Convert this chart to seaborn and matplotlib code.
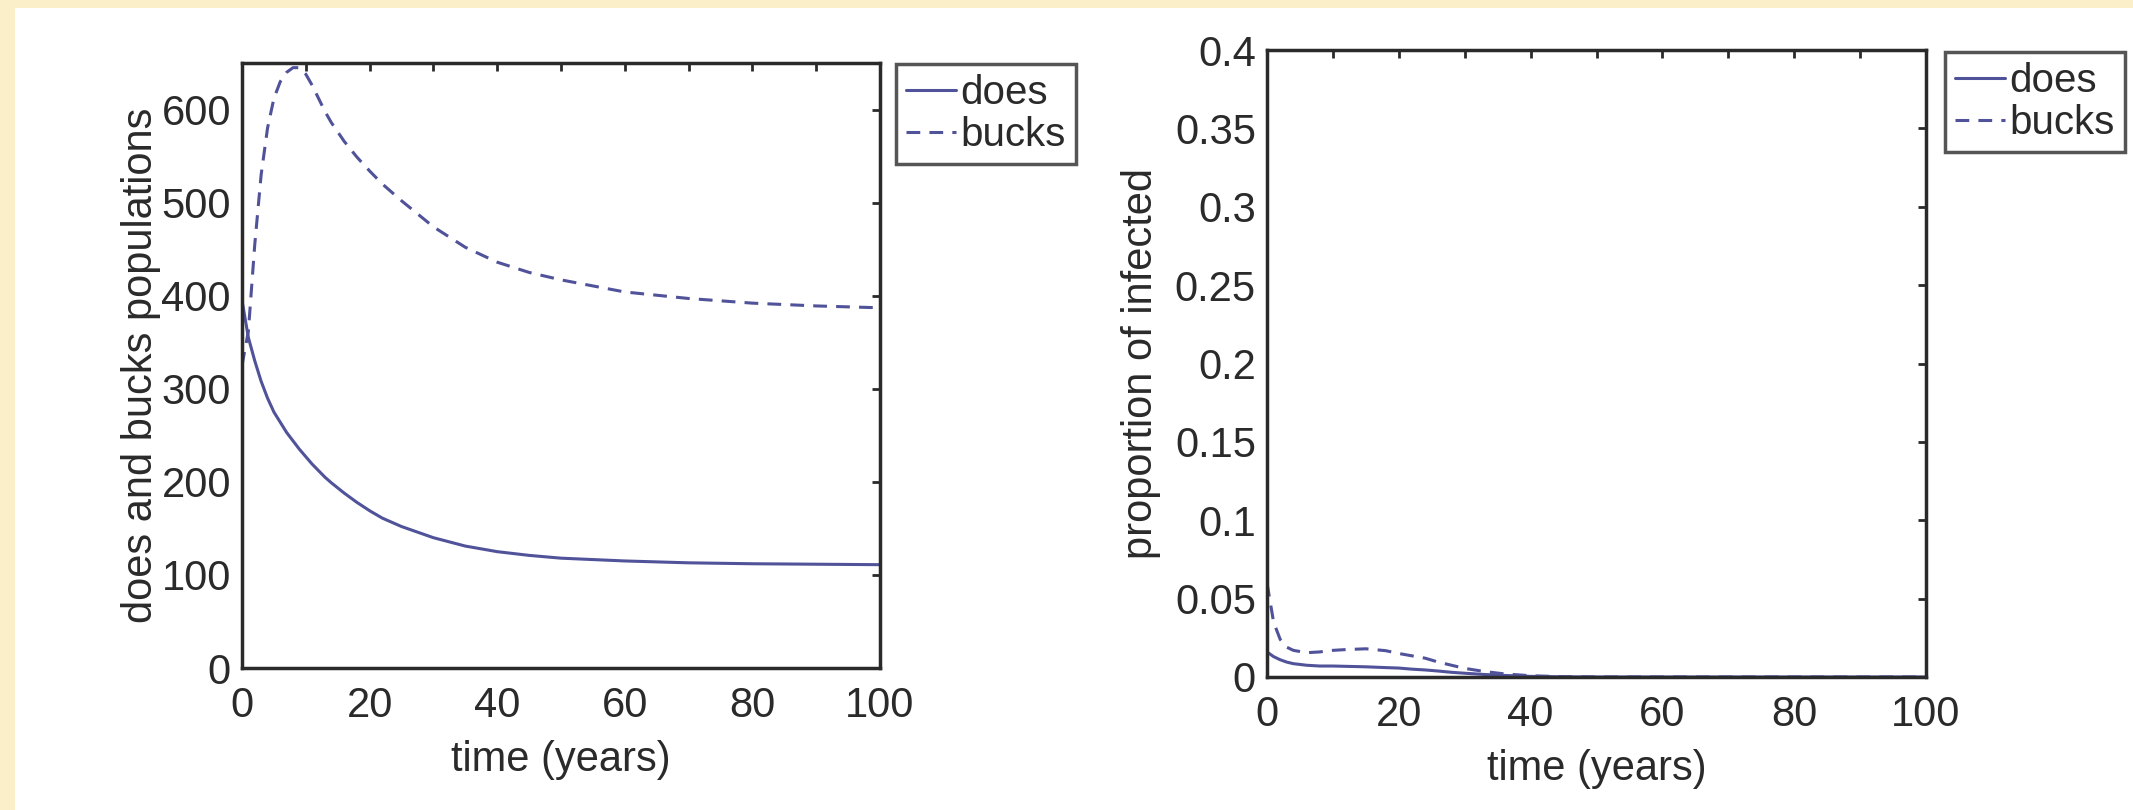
import matplotlib
matplotlib.use("Agg")
import matplotlib.pyplot as plt
import matplotlib.patches as mpatches
import seaborn as sns
import pandas as pd

# --- data ---
# left panel: population sizes over time
t_pop = [0, 1, 2, 3, 4, 5, 6, 7, 8, 9, 10, 11, 12, 13, 14, 16, 18, 20, 22,
         25, 30, 35, 40, 45, 50, 60, 70, 80, 90, 100]
does_pop = [395, 355, 330, 308, 290, 275, 264, 253, 244, 235, 227, 219, 212, 205, 199, 188,
            178, 169, 161, 152, 140, 131, 125, 121, 118, 115, 113, 112, 111.5, 111]
bucks_pop = [325, 362, 455, 530, 580, 612, 630, 640, 645, 645, 638, 626, 612, 598, 586, 566,
             549, 534, 520, 502, 474, 452, 436, 425, 417, 404, 397, 392, 389, 387]

# right panel: proportion of infected over time
t_inf = [0, 1, 2, 3, 4, 6, 8, 10, 12, 15, 18, 20, 22, 24, 26, 28, 30,
         33, 36, 40, 45, 50, 60, 80, 100]
does_inf = [0.016, 0.013, 0.011, 0.0095, 0.0085, 0.0075, 0.007, 0.007, 0.0068, 0.0065, 0.006,
            0.0057, 0.005, 0.0045, 0.0038, 0.003, 0.0024, 0.0016, 0.001, 0.0004, 0.0001,
            0, 0, 0, 0]
bucks_inf = [0.060, 0.035, 0.024, 0.019, 0.017, 0.0155, 0.016, 0.017, 0.0175, 0.018, 0.0168,
             0.015, 0.0135, 0.012, 0.0095, 0.0075, 0.0055, 0.0035, 0.002, 0.0008, 0.0002,
             0, 0, 0, 0]

x_ticks = [0, 20, 40, 60, 80, 100]
x_minor = list(range(0, 101, 10))
pop_ticks = [0, 100, 200, 300, 400, 500, 600]
inf_ticks = [0, 0.05, 0.1, 0.15, 0.2, 0.25, 0.3, 0.35, 0.4]
inf_tick_labels = ["0", "0.05", "0.1", "0.15", "0.2", "0.25", "0.3", "0.35", "0.4"]

# --- style ---
sns.set_theme(style="white")
plt.rcParams['font.family'] = ['Liberation Sans', 'DejaVu Sans']

line_color = "#50529a"
cream = "#fbefca"
ink = "#2a2a2a"
W, H = 2133, 810

fig = plt.figure(figsize=(W / 100, H / 100), dpi=100, facecolor=cream)
# white panel inside the cream frame
fig.patches.append(mpatches.Rectangle((15 / W, 0), 1, 802 / H, transform=fig.transFigure,
                                      facecolor="white", edgecolor="none", zorder=-1))

ax1 = fig.add_axes([242 / W, 1 - 668 / H, 638 / W, 605 / H])
ax2 = fig.add_axes([1267 / W, 1 - 677 / H, 659 / W, 627 / H])

df_pop = pd.DataFrame({"t": t_pop, "does": does_pop, "bucks": bucks_pop})
df_inf = pd.DataFrame({"t": t_inf, "does": does_inf, "bucks": bucks_inf})

dash = (0, (4.5, 3))
for ax, df in [(ax1, df_pop), (ax2, df_inf)]:
    sns.lineplot(data=df, x="t", y="does", ax=ax, color=line_color, linewidth=2.2,
                 label="does")
    sns.lineplot(data=df, x="t", y="bucks", ax=ax, color=line_color, linewidth=2.2,
                 linestyle=dash, label="bucks")

ax1.set_ylim(0, 650)
ax1.set_yticks(pop_ticks)
ax1.set_ylabel("does and bucks populations", fontsize=30, color=ink, labelpad=0)

ax2.set_ylim(0, 0.4)
ax2.set_yticks(inf_ticks)
ax2.set_yticklabels(inf_tick_labels)
ax2.set_ylabel("proportion of infected", fontsize=30, color=ink, labelpad=10)

legend_pos = {ax1: (896 / W, 1 - 64 / H), ax2: (1945 / W, 1 - 52 / H)}

for ax in (ax1, ax2):
    ax.set_xlim(0, 100)
    ax.set_xticks(x_ticks)
    ax.set_xticks(x_minor, minor=True)
    ax.set_xlabel("time (years)", fontsize=30, color=ink, labelpad=10)
    ax.tick_params(which="both", direction="in", top=True, right=True,
                   length=6, width=2, color=ink)
    ax.tick_params(axis="y", which="major", labelsize=30, labelcolor=ink, pad=8)
    ax.tick_params(axis="x", which="major", labelsize=30, labelcolor=ink, pad=13)
    for sp in ax.spines.values():
        sp.set_linewidth(2.5)
        sp.set_color(ink)
    leg = ax.legend(loc="upper left", bbox_to_anchor=legend_pos[ax],
                    bbox_transform=fig.transFigure, frameon=True, fancybox=False,
                    fontsize=29, handlelength=1.25, handletextpad=0.1,
                    borderpad=0.25, labelspacing=0.1, borderaxespad=0)
    leg.get_frame().set_edgecolor(ink)
    leg.get_frame().set_linewidth(2.5)
    for txt in leg.get_texts():
        txt.set_color(ink)

fig.savefig("out.png", dpi=100, facecolor=cream)
